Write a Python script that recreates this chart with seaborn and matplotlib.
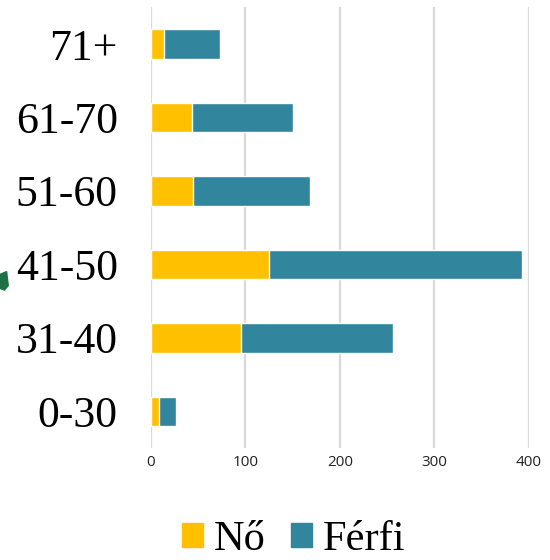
import matplotlib
matplotlib.use("Agg")
import matplotlib.pyplot as plt
import matplotlib.patches as mpatches
import seaborn as sns
import pandas as pd

categories = ["71+", "61-70", "51-60", "41-50", "31-40", "0-30"]
no_values = [14, 43, 44, 125, 95, 8]
ferfi_values = [59, 107, 124, 268, 161, 18]
x_ticks = [0, 100, 200, 300, 400]
series_names = ["Nő", "Férfi"]
colors = ["#FFC000", "#31859C"]

totals = [a + b for a, b in zip(no_values, ferfi_values)]
df = pd.DataFrame({"cat": categories, "no": no_values, "total": totals})

sns.set_theme(style="white")
plt.rcParams["font.family"] = ["DejaVu Sans"]
plt.rcParams["text.color"] = "black"
plt.rcParams["xtick.color"] = "black"
plt.rcParams["ytick.color"] = "black"

fig = plt.figure(figsize=(5.5, 5.6), dpi=100)
ax = fig.add_axes([0.2745, 0.2, 0.6873, 0.787])

sns.barplot(data=df, y="cat", x="total", color=colors[1], orient="h",
            width=0.4, ax=ax, saturation=1, order=categories)
sns.barplot(data=df, y="cat", x="no", color=colors[0], orient="h",
            width=0.4, ax=ax, saturation=1, order=categories)

ax.set_xlim(0, 400)
ax.set_ylim(5.5, -0.5)
ax.set_xticks(x_ticks)
ax.set_xticklabels([str(t) for t in x_ticks], fontsize=11, family="Open Sans",
                   color="#222222")
ax.set_yticks(range(len(categories)))
ax.set_yticklabels(categories, fontsize=31.5, family="Liberation Serif", color="black")
ax.tick_params(axis="y", length=0, pad=24)
ax.tick_params(axis="x", length=0, pad=5)
ax.set_xlabel("")
ax.set_ylabel("")
for s in ax.spines.values():
    s.set_visible(False)
ax.xaxis.grid(True, color="#D9D9D9", linewidth=1.6)
ax.set_axisbelow(True)

handles = [mpatches.Patch(color=c, label=n) for c, n in zip(colors, series_names)]
leg = fig.legend(handles=handles, loc="center", bbox_to_anchor=(0.534, 0.036),
                 ncol=2, frameon=False, prop={"family": "Liberation Serif", "size": 30.5},
                 handlelength=0.5, handleheight=0.5, handletextpad=0.25,
                 columnspacing=0.6, labelcolor="black", borderpad=0.1)

# small green fragment at left edge
fig.patches.append(mpatches.Polygon([(0.0, 0.51), (0.012, 0.515), (0.015, 0.49),
                                     (0.008, 0.482), (0.0, 0.485)],
                                    closed=True, transform=fig.transFigure,
                                    color="#1E7145", figure=fig))

fig.savefig("out.png", dpi=100)
